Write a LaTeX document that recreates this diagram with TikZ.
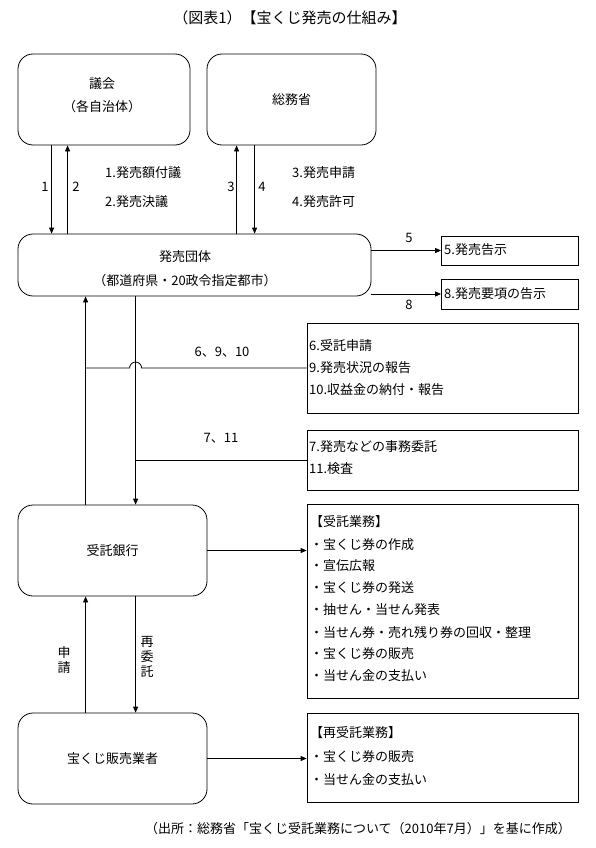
\documentclass[tikz,border=0pt]{standalone}
\usepackage{fontspec}
\setmainfont{Noto Sans CJK JP}
\usetikzlibrary{arrows.meta}
\begin{document}
\begin{tikzpicture}[x=1pt,y=-1pt,
  font=\fontsize{13}{15}\selectfont,
  rbox/.style={draw, rounded corners=15pt, line width=0.8pt, inner sep=0pt},
  sbox/.style={draw, line width=0.8pt, inner sep=0pt},
  arr/.style={-{Triangle[length=6pt,width=5pt]}, line width=0.8pt},
  ln/.style={line width=0.8pt},
  lbl/.style={inner sep=0pt},
  txt/.style={inner sep=0pt, anchor=west},
  ]
\useasboundingbox (0,0) rectangle (596,848);
\fill[white] (0,0) rectangle (596,848);

\node[lbl, font=\fontsize{15}{17}\selectfont] (title) at (290,18) {（図表1）【宝くじ発売の仕組み】};

% boxes
\node[rbox, minimum width=172pt, minimum height=91pt] (gikai) at (104,99.5) {};
\node[lbl] (gikaiT1) at (102,84) {議会};
\node[lbl] (gikaiT2) at (102,107) {（各自治体）};
\node[rbox, minimum width=169pt, minimum height=91pt] (soumu) at (291.5,99.5) {総務省};

\node[rbox, minimum width=353pt, minimum height=62pt] (hatsubai) at (194.5,265) {};
\node[lbl] (hT1) at (185,257) {発売団体};
\node[lbl] (hT2) at (185,281) {（都道府県・20政令指定都市）};

\node[sbox, minimum width=137pt, minimum height=29pt] (b5) at (510,250.5) {};
\node[txt] (b5T) at (444,250) {5.発売告示};
\node[sbox, minimum width=137pt, minimum height=30pt] (b8) at (510,294) {};
\node[txt] (b8T) at (444,293.5) {8.発売要項の告示};

\node[sbox, minimum width=271pt, minimum height=90pt] (b6) at (442.5,368) {};
\node[txt] (b6a) at (309,346) {6.受託申請};
\node[txt] (b6b) at (309,368) {9.発売状況の報告};
\node[txt] (b6c) at (309,390) {10.収益金の納付・報告};

\node[sbox, minimum width=271pt, minimum height=60pt] (b7) at (442.5,460) {};
\node[txt] (b7a) at (309,447) {7.発売などの事務委託};
\node[txt] (b7b) at (309,469) {11.検査};

\node[rbox, minimum width=189pt, minimum height=91pt] (ginko) at (112.5,550.5) {受託銀行};

\node[sbox, minimum width=271pt, minimum height=194pt] (itaku) at (442.5,601) {};
\node[txt] (i0) at (310,522) {【受託業務】};
\node[txt] (i1) at (310,545) {・宝くじ券の作成};
\node[txt] (i2) at (310,566) {・宣伝広報};
\node[txt] (i3) at (310,588) {・宝くじ券の発送};
\node[txt] (i4) at (310,610) {・抽せん・当せん発表};
\node[txt] (i5) at (310,632) {・当せん券・売れ残り券の回収・整理};
\node[txt] (i6) at (310,654) {・宝くじ券の販売};
\node[txt] (i7) at (310,676) {・当せん金の支払い};

\node[rbox, minimum width=189pt, minimum height=91pt] (hanbai) at (112.5,758.5) {宝くじ販売業者};

\node[sbox, minimum width=271pt, minimum height=89pt] (saiitaku) at (442.5,757.5) {};
\node[txt] (s0) at (310,733) {【再受託業務】};
\node[txt] (s1) at (310,757) {・宝くじ券の販売};
\node[txt] (s2) at (310,780) {・当せん金の支払い};

\node[lbl, anchor=east] (note) at (571,829) {（出所：総務省「宝くじ受託業務について（2010年7月）」を基に作成）};

% arrows top
\draw[arr] ([xshift=34pt]gikai.south west) -- ([xshift=34pt]hatsubai.north west);
\draw[arr] ([xshift=50pt]hatsubai.north west) -- ([xshift=50pt]gikai.south west);
\draw[arr] ([xshift=219pt]hatsubai.north west) -- ([xshift=30pt]soumu.south west);
\draw[arr] ([xshift=48pt]soumu.south west) -- ([xshift=237pt]hatsubai.north west);
\node[lbl] (l1) at (45,187) {1};
\node[lbl] (l2) at (76,187) {2};
\node[lbl] (l3) at (231,187) {3};
\node[lbl] (l4) at (262,187) {4};
\node[txt] (t1) at (105,173) {1.発売額付議};
\node[txt] (t2) at (105,202) {2.発売決議};
\node[txt] (t3) at (292,173) {3.発売申請};
\node[txt] (t4) at (292,202) {4.発売許可};

% 5 and 8
\draw[arr] (hatsubai.east |- b5.west) -- (b5.west);
\draw[arr] (hatsubai.east |- b8.west) -- (b8.west);
\node[lbl] (l5) at (409,238) {5};
\node[lbl] (l8) at (409,305) {8};

% middle
\coordinate (upx) at ([xshift=68pt]hatsubai.south west);
\coordinate (dnx) at ([xshift=118pt]hatsubai.south west);
\draw[arr] ([xshift=68pt]ginko.north west) -- (upx);
\draw[arr] (dnx) -- ([xshift=118pt]ginko.north west);
\draw[ln] (upx |- b6.west) -- ([xshift=-6pt]dnx |- b6.west)
  arc[start angle=180, end angle=0, radius=6pt] -- (b6.west);
\draw[ln] (dnx |- b7.west) -- (b7.west);
\node[lbl] (l6) at (222,352) {6、9、10};
\node[lbl] (l7) at (221,438) {7、11};

\draw[arr] (ginko.east) -- (ginko.east -| itaku.west);

% bottom
\draw[arr] ([xshift=68pt]hanbai.north west) -- ([xshift=68pt]ginko.south west);
\draw[arr] ([xshift=118pt]ginko.south west) -- ([xshift=118pt]hanbai.north west);
\node[lbl, align=center] (lshin) at (64,660) {申\\請};
\node[lbl, align=center] (lsai) at (147,657) {再\\委\\託};
\draw[arr] (hanbai.east) -- (hanbai.east -| saiitaku.west);
\end{tikzpicture}
\end{document}
